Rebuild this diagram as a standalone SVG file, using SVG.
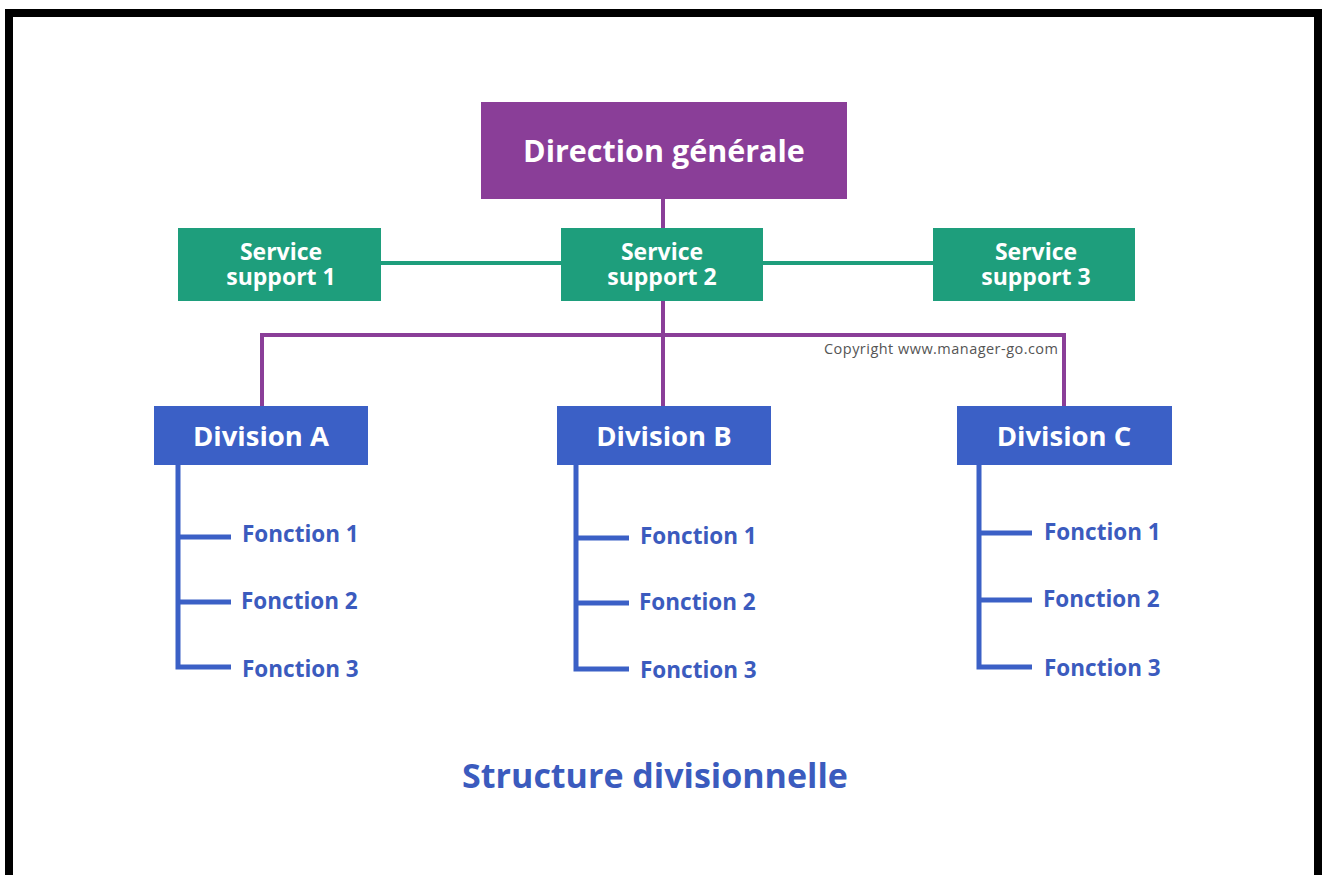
<svg xmlns="http://www.w3.org/2000/svg" width="1328" height="875" viewBox="0 0 1328 875">
<style>
.t{font-family:"Open Sans","Liberation Sans",sans-serif;font-weight:bold;text-anchor:middle}
.w{fill:#ffffff}
.pur{fill:#8A3E98}
.grn{fill:#1E9E7C}
.blu{fill:#3B60C6}
.fn{font-family:"Open Sans","Liberation Sans",sans-serif;font-weight:bold;font-size:22.5px;fill:#3B5BBE}
</style>
<rect x="0" y="0" width="1328" height="875" fill="#ffffff"/>
<rect x="9" y="13" width="1309" height="880" fill="none" stroke="#000000" stroke-width="8"/>
<g id="connectors" fill="none">
<line x1="663" y1="199" x2="663" y2="229" stroke="#8A3E98" stroke-width="4"/>
<line x1="381" y1="263" x2="933" y2="263" stroke="#1E9E7C" stroke-width="4"/>
<polyline points="262,406 262,335 1064,335 1064,406" stroke="#8A3E98" stroke-width="4"/>
<line x1="663" y1="301" x2="663" y2="406" stroke="#8A3E98" stroke-width="4"/>
<g stroke="#3B60C6" stroke-width="5">
<polyline points="178,465 178,667 231,667"/>
<line x1="178" y1="537" x2="231" y2="537"/>
<line x1="178" y1="602" x2="231" y2="602"/>
<polyline points="576,465 576,669 629,669"/>
<line x1="576" y1="538" x2="629" y2="538"/>
<line x1="576" y1="603" x2="629" y2="603"/>
<polyline points="979,465 979,667 1032,667"/>
<line x1="979" y1="533" x2="1032" y2="533"/>
<line x1="979" y1="600" x2="1032" y2="600"/>
</g>
</g>
<g id="direction">
<rect class="pur" x="481" y="102" width="366" height="97"/>
<text class="t w" x="664" y="162" font-size="30.5">Direction générale</text>
</g>
<g id="ss1">
<rect class="grn" x="178" y="228" width="203" height="73"/>
<text class="t w" font-size="23"><tspan x="281" y="260">Service</tspan><tspan x="281" y="285">support 1</tspan></text>
</g>
<g id="ss2">
<rect class="grn" x="561" y="228" width="202" height="73"/>
<text class="t w" font-size="23"><tspan x="662" y="260">Service</tspan><tspan x="662" y="285">support 2</tspan></text>
</g>
<g id="ss3">
<rect class="grn" x="933" y="228" width="202" height="73"/>
<text class="t w" font-size="23"><tspan x="1036" y="260">Service</tspan><tspan x="1036" y="285">support 3</tspan></text>
</g>
<g id="copyright">
<text x="824" y="354" font-family="'Open Sans','Liberation Sans',sans-serif" font-size="14.5" fill="#555555" textLength="234">Copyright www.manager-go.com</text>
</g>
<g id="divA">
<rect class="blu" x="154" y="406" width="214" height="59"/>
<text class="t w" x="261" y="446" font-size="27.5">Division A</text>
</g>
<g id="divB">
<rect class="blu" x="557" y="406" width="214" height="59"/>
<text class="t w" x="664" y="446" font-size="27.5">Division B</text>
</g>
<g id="divC">
<rect class="blu" x="957" y="406" width="215" height="59"/>
<text class="t w" x="1064" y="446" font-size="27.5">Division C</text>
</g>
<g id="fA">
<text class="fn" x="242" y="542">Fonction 1</text>
<text class="fn" x="241" y="609">Fonction 2</text>
<text class="fn" x="242" y="677">Fonction 3</text>
</g>
<g id="fB">
<text class="fn" x="640" y="544">Fonction 1</text>
<text class="fn" x="639" y="610">Fonction 2</text>
<text class="fn" x="640" y="678">Fonction 3</text>
</g>
<g id="fC">
<text class="fn" x="1044" y="540">Fonction 1</text>
<text class="fn" x="1043" y="607">Fonction 2</text>
<text class="fn" x="1044" y="676">Fonction 3</text>
</g>
<g id="title">
<text class="t" x="655" y="788" font-size="34" fill="#3B5BBE">Structure divisionnelle</text>
</g>
</svg>
